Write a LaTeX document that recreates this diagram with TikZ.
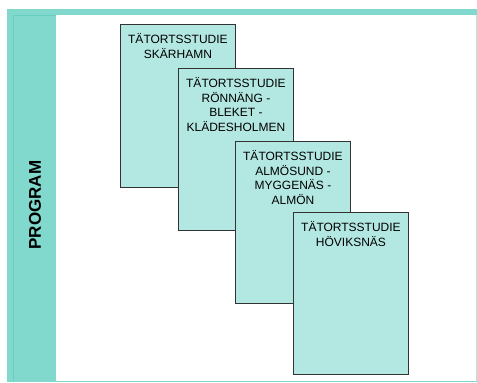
\documentclass[tikz,border=0pt]{standalone}
\usepackage{fontspec}
\setmainfont{Liberation Sans}
\definecolor{stripteal}{HTML}{80D9CC}
\definecolor{lineteal}{HTML}{6BCFC0}
\definecolor{boxfill}{HTML}{B3E8E2}
\definecolor{boxedge}{HTML}{333333}
\begin{document}
\begin{tikzpicture}[x=1pt,y=-1pt,
  stbox/.style={draw=boxedge, line width=0.9pt, fill=boxfill, rectangle, minimum width=115pt, minimum height=162pt, anchor=north west, inner sep=0pt},
  stlbl/.style={anchor=north, inner sep=0pt, align=center, font=\fontsize{12}{14.5}\selectfont, text=black}]
\useasboundingbox (0,0) rectangle (477,383);
% frame
\fill[stripteal] (7,9) rectangle (477,15);
\fill[stripteal] (7,15) rectangle (56,382);
\draw[lineteal, line width=0.8pt] (13,382) -- (13,15.5) -- (56,15.5);
\draw[stripteal, line width=1.5pt] (56,381.5) -- (477,381.5);
\draw[stripteal!60, line width=1pt] (476.3,15) -- (476.3,381);
\node[rotate=90, font=\fontsize{17}{20}\bfseries\selectfont, inner sep=0pt] (prog) at (35,205) {PROGRAM};
% boxes
\node[stbox, minimum height=163pt] (b1) at (120,24) {};
\node[stlbl] (t1) at ([yshift=-9.5pt]b1.north) {TÄTORTSSTUDIE\\SKÄRHAMN};
\node[stbox] (b2) at (178,68) {};
\node[stlbl] (t2) at ([yshift=-9.5pt]b2.north) {TÄTORTSSTUDIE\\RÖNNÄNG -\\BLEKET -\\KLÄDESHOLMEN};
\node[stbox] (b3) at (235,141) {};
\node[stlbl] (t3) at ([yshift=-9.5pt]b3.north) {TÄTORTSSTUDIE\\ALMÖSUND -\\MYGGENÄS -\\ALMÖN};
\node[stbox] (b4) at (293,212) {};
\node[stlbl] (t4) at ([yshift=-9.5pt]b4.north) {TÄTORTSSTUDIE\\HÖVIKSNÄS};
\end{tikzpicture}
\end{document}
